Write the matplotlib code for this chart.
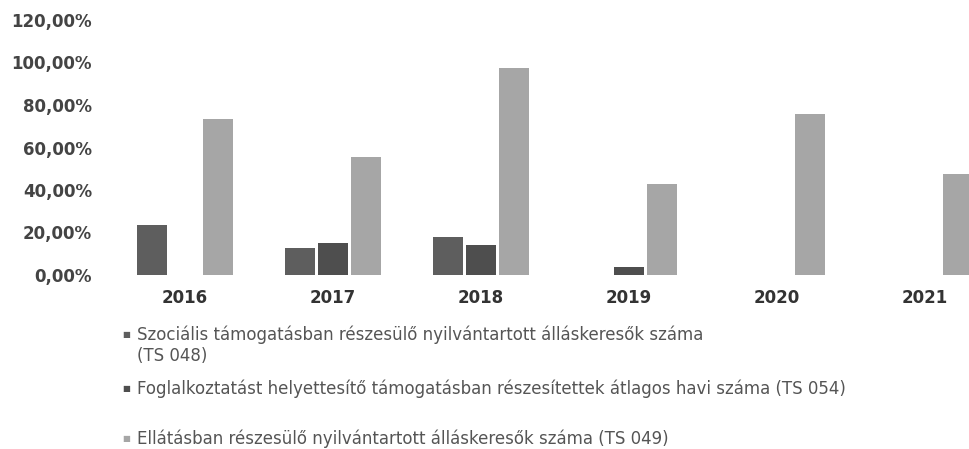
import matplotlib.pyplot as plt
import numpy as np

years = ["2016", "2017", "2018", "2019", "2020", "2021"]
# values in %, 0 = no bar
szocialis = [23.5, 12.7, 18.0, 0.0, 0.0, 0.0]
foglalkoztatast = [0.0, 15.0, 14.0, 4.0, 0.0, 0.0]
ellatasban = [73.5, 55.5, 97.5, 43.0, 76.0, 47.5]

labels = [
    "Szociális támogatásban részesülő nyilvántartott álláskeresők száma\n(TS 048)",
    "Foglalkoztatást helyettesítő támogatásban részesítettek átlagos havi száma (TS 054)",
    "Ellátásban részesülő nyilvántartott álláskeresők száma (TS 049)",
]
colors = ["#5e5e5e", "#4e4e4e", "#a6a6a6"]

fig = plt.figure(figsize=(9.7, 4.49), dpi=100)
ax = fig.add_axes([110 / 970, (449 - 275) / 449, 860 / 970, 255 / 449])

x = np.arange(len(years))
w = 0.2
off = 0.223
for i, vals in enumerate([szocialis, foglalkoztatast, ellatasban]):
    ax.bar(x + (i - 1) * off, np.array(vals) / 100, width=w, color=colors[i])

ax.set_xlim(-0.507, 5.304)
ax.set_ylim(0, 1.2)
yt = np.arange(0, 1.21, 0.2)
ax.set_yticks(yt)
ax.set_yticklabels([("%.2f%%" % (v * 100)).replace(".", ",") for v in yt],
                   fontsize=12, fontweight="bold", color="#444444")
ax.set_xticks(x)
ax.set_xticklabels(years, fontsize=12, fontweight="bold", color="#333333")
ax.tick_params(axis="y", length=0, pad=13)
ax.tick_params(axis="x", length=0, pad=10)
for s in ax.spines.values():
    s.set_visible(False)

# legend below the chart
ys = [335, 388, 438]
for i in range(3):
    yf = 1 - ys[i] / 449
    fig.text(122 / 970, yf, "■", fontsize=6, color=colors[i], va="center")
    fig.text(137 / 970, 1 - (ys[i] - 9) / 449, labels[i], fontsize=12, color="#555555",
             va="top", linespacing=1.2)

fig.savefig("out.png", dpi=100)
